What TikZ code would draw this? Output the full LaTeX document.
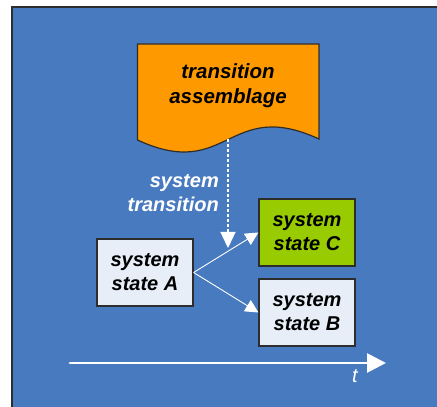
\documentclass[tikz,border=0pt]{standalone}
\usepackage{fontspec}
\setmainfont{Liberation Sans}
\usetikzlibrary{arrows.meta}
\definecolor{bgblue}{RGB}{72,122,192}
\definecolor{docorange}{RGB}{255,153,0}
\definecolor{stategreen}{RGB}{153,204,0}
\definecolor{statelight}{RGB}{232,238,248}
\definecolor{edgegray}{RGB}{45,45,45}
\tikzset{
  statebox/.style={draw=edgegray, line width=1.2pt, fill=statelight, minimum width=96pt, minimum height=67pt, inner sep=0pt, align=center, font=\fontsize{20}{24}\selectfont\bfseries\itshape},
  flowarrow/.style={draw=white, line width=0.9pt, -{Triangle[length=13pt,width=13pt]}},
  lbl/.style={text=white, font=\fontsize{20}{24}\selectfont\bfseries\itshape, inner sep=0pt}
}
\begin{document}
\begin{tikzpicture}[x=1pt,y=1pt]
\useasboundingbox (0,0) rectangle (437,407);
\fill[white] (0,0) rectangle (437,407);
\fill[bgblue] (12,0) rectangle (437,400);
\draw[edgegray, line width=1.2pt] (12,0) -- (12,400) -- (437,400);
% document shape
\draw[edgegray, line width=1.2pt, fill=docorange]
  (137.5,267) -- (137.5,363) -- (319,363) -- (319,268)
  .. controls (228,310) and (228,225) .. (137.5,267) -- cycle;
\node[inner sep=0pt, align=center, font=\fontsize{20.5}{25}\selectfont\bfseries\itshape] (doc) at (228,321) {transition\\assemblage};
\coordinate (docbot) at (228,267.5);
\coordinate (tranend) at (228,159);
\draw[white, line width=1.4pt, dash pattern=on 3pt off 2pt, -{Triangle[length=16pt,width=15pt]}] (docbot) -- (tranend);
\node[lbl, anchor=east, align=right] (translbl) at (219,214) {system\\transition};
% states
\node[statebox] (A) at (145,134.5) {system\\state A};
\node[statebox, fill=stategreen] (C) at (307,174.5) {system\\state C};
\node[statebox] (B) at (307,94.5) {system\\state B};
\draw[flowarrow] (A.east) -- (C.west);
\draw[flowarrow] (A.east) -- (B.west);
% time axis
\coordinate (t0) at (70,44);
\coordinate (t1) at (386,44);
\draw[white, line width=2.8pt, line cap=round, -{Triangle[length=19pt,width=19pt]}] (t0) -- (t1);
\node[text=white, inner sep=0pt, font=\fontsize{20}{24}\selectfont\itshape] (tl) at (355,31) {t};
\end{tikzpicture}
\end{document}
